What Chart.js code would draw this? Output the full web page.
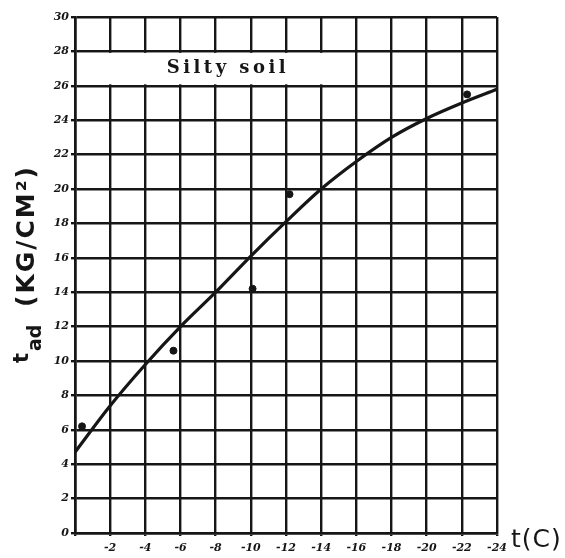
<!DOCTYPE html>
<html>
<head>
<meta charset="utf-8">
<script src="https://cdn.jsdelivr.net/npm/chart.js@4.4.0/dist/chart.umd.min.js"></script>
<style>
  html, body { margin: 0; padding: 0; background: #fff; }
  #wrap { width: 565px; height: 558px; position: relative; }
</style>
</head>
<body>
<div id="wrap"><canvas id="soil"></canvas></div>
<script>
// adfreeze strength vs. temperature, silty soil
const tempCurve     = [0, -2, -4, -6, -8, -10, -12, -14, -16, -18, -20, -22, -24];
const strengthCurve = [4.7, 7.4, 9.8, 12.0, 14.0, 16.1, 18.1, 20.0, 21.6, 23.0, 24.1, 25.0, 25.8];

const tempTests     = [-0.4, -5.6, -10.1, -12.2, -22.3];
const strengthTests = [6.2, 10.6, 14.2, 19.7, 25.5];

const xTicks = [0, -2, -4, -6, -8, -10, -12, -14, -16, -18, -20, -22, -24];
const yTicks = [0, 2, 4, 6, 8, 10, 12, 14, 16, 18, 20, 22, 24, 26, 28, 30];

const INK = '#161616';

const toPoints = (xs, ys) => xs.map((x, i) => ({ x: x, y: ys[i] }));

// white label box over the top rows of the grid
const soilLabel = {
  id: 'soilLabel',
  beforeDatasetsDraw(chart) {
    const { ctx, scales: { x, y } } = chart;
    const x0 = x.getPixelForValue(0) + 2;
    const x1 = x.getPixelForValue(-16) - 1.5;
    const y0 = y.getPixelForValue(28) + 1.5;
    const y1 = y.getPixelForValue(26) - 1.5;
    ctx.save();
    ctx.fillStyle = '#fff';
    ctx.fillRect(x0, y0, x1 - x0, y1 - y0);
    ctx.fillStyle = INK;
    ctx.font = 'bold 18px "DejaVu Serif"';
    ctx.letterSpacing = '3.5px';
    ctx.textAlign = 'center';
    ctx.textBaseline = 'middle';
    ctx.fillText('Silty soil', (x0 + x1) / 2 + 12, (y0 + y1) / 2);
    ctx.restore();
  }
};

// axis titles: t_ad (KG/CM²) rotated on the left, t(C) after the last tick
const axisTitles = {
  id: 'axisTitles',
  afterDraw(chart) {
    const { ctx, chartArea } = chart;
    ctx.save();
    ctx.fillStyle = INK;
    ctx.textBaseline = 'alphabetic';
    ctx.textAlign = 'left';

    ctx.translate(28, 363);
    ctx.rotate(-Math.PI / 2);
    ctx.font = 'bold 21px "DejaVu Sans"';
    ctx.fillText('t', 0, 0);
    ctx.font = 'bold 19px "DejaVu Sans"';
    ctx.fillText('ad', 12, 13);
    ctx.font = 'bold 25px "DejaVu Sans"';
    ctx.letterSpacing = '2px';
    ctx.fillText('(KG/CM²)', 56, 6);
    ctx.restore();

    ctx.save();
    ctx.fillStyle = INK;
    ctx.font = '25px "DejaVu Sans"';
    ctx.letterSpacing = '1px';
    ctx.textBaseline = 'alphabetic';
    ctx.fillText('t(C)', chartArea.right + 14, chartArea.bottom + 14);
    ctx.restore();
  }
};

new Chart(document.getElementById('soil').getContext('2d'), {
  type: 'scatter',
  data: {
    datasets: [
      {
        label: 'curve',
        data: toPoints(tempCurve, strengthCurve),
        showLine: true,
        borderColor: INK,
        borderWidth: 3.2,
        pointRadius: 0,
        cubicInterpolationMode: 'monotone'
      },
      {
        label: 'tests',
        data: toPoints(tempTests, strengthTests),
        showLine: false,
        pointRadius: 3.5,
        pointBackgroundColor: INK,
        pointBorderColor: INK
      }
    ]
  },
  options: {
    responsive: true,
    maintainAspectRatio: false,
    animation: false,
    layout: { padding: { top: 17, right: 68, bottom: 0, left: 0 } },
    plugins: {
      legend: { display: false },
      tooltip: { enabled: false }
    },
    scales: {
      x: {
        type: 'linear',
        reverse: true,
        min: -24,
        max: 0,
        afterBuildTicks: scale => { scale.ticks = xTicks.map(v => ({ value: v })); },
        afterFit: scale => { scale.height = 25; },
        grid: { color: INK, lineWidth: 2.4, tickLength: 3 },
        border: { color: INK, width: 2.6 },
        ticks: {
          color: INK,
          padding: 6,
          maxRotation: 0,
          autoSkip: false,
          font: { family: 'DejaVu Serif', size: 11, weight: 'bold', style: 'italic' },
          callback: v => (v === 0 ? '' : String(v))
        }
      },
      y: {
        type: 'linear',
        min: 0,
        max: 30,
        afterBuildTicks: scale => { scale.ticks = yTicks.map(v => ({ value: v })); },
        afterFit: scale => { scale.width = 75; },
        grid: { color: INK, lineWidth: 2.4, tickLength: 4 },
        border: { color: INK, width: 2.6 },
        ticks: {
          color: INK,
          padding: 2,
          autoSkip: false,
          font: { family: 'DejaVu Serif', size: 11, weight: 'bold', style: 'italic' },
          callback: v => String(v)
        }
      }
    }
  },
  plugins: [soilLabel, axisTitles]
});
</script>
</body>
</html>
